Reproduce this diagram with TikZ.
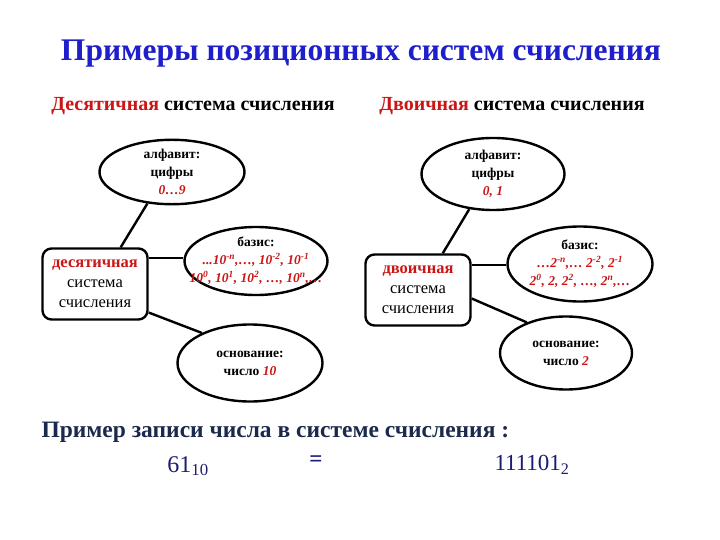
\documentclass[tikz,border=0pt]{standalone}
\usepackage{fontspec}
\setmainfont{Liberation Serif}
\usetikzlibrary{shapes.geometric}
\definecolor{ttlblue}{HTML}{1E1ECC}
\definecolor{rd}{HTML}{CC1515}
\definecolor{navy}{HTML}{1B2A4C}
\definecolor{dnavy}{HTML}{1C1C70}
\tikzset{
  oval/.style={ellipse, draw=black, line width=2.4pt, inner sep=0pt, align=center,
     font=\fontsize{13.5}{18}\selectfont\bfseries},
  sysbox/.style={draw=black, line width=2.4pt, rounded corners=9pt, inner sep=0pt, align=center,
     minimum width=105pt, minimum height=71pt, font=\fontsize{16.5}{20}\selectfont},
  link/.style={line width=2.4pt, draw=black}
}
\newcommand{\rdi}[1]{{\color{rd}\itshape #1}}
\newcommand{\sps}[1]{\textsuperscript{#1}}
\newcommand{\zw}[1]{\makebox[0pt]{#1}}
\begin{document}
\begin{tikzpicture}[x=1pt, y=-1pt]
\useasboundingbox (0,0) rectangle (720,540);
\node (title) at (361,54) {\fontsize{31.5}{34}\selectfont\bfseries\color{ttlblue}Примеры позиционных систем счисления};
\node (subl) at (193,106) {\fontsize{20}{22}\selectfont\bfseries{\color{rd}Десятичная} система счисления};
\node (subr) at (512,106) {\fontsize{20}{22}\selectfont\bfseries{\color{rd}Двоичная} система счисления};

% left
\node[oval, minimum width=145pt, minimum height=60pt] (lalpha) at (172,172) {алфавит:\\цифры\\\rdi{0…9}};
\node[sysbox] (lbox) at (95,284) {{\color{rd}\bfseries десятичная}\\система\\счисления};
\node[oval, minimum width=143pt, minimum height=68pt] (lbasis) at (256,261)
  {\zw{базис:}\\\zw{\rdi{...10\sps{-n},…, 10\sps{-2}, 10\sps{-1}}}\\\zw{\rdi{10\sps{0}, 10\sps{1}, 10\sps{2}, …, 10\sps{n},…}}};
\node[oval, minimum width=145pt, minimum height=77pt] (lbase) at (250,363) {основание:\\число \rdi{10}};

% right
\node[oval, minimum width=143pt, minimum height=72pt] (ralpha) at (493,174) {алфавит:\\цифры\\\rdi{0, 1}};
\node[sysbox] (rbox) at (418,290) {{\color{rd}\bfseries двоичная}\\система\\счисления};
\node[oval, minimum width=145pt, minimum height=75pt] (rbasis) at (580,264)
  {\zw{базис:}\\\zw{\rdi{…2\sps{-n},… 2\sps{-2}, 2\sps{-1}}}\\\zw{\rdi{2\sps{0}, 2, 2\sps{2}, …, 2\sps{n},…}}};
\node[oval, minimum width=132pt, minimum height=73pt] (rbase) at (566,353) {основание:\\число \rdi{2}};

% connectors
\draw[link] (lbox.55) -- (lalpha.232);
\draw[link] (lbox.26) -- (lbox.26 -| lbasis.west);
\draw[link] (lbox.-28) -- (lbase.148);
\draw[link] (rbox.56) -- (ralpha.236);
\draw[link] (rbox.25) -- (rbox.25 -| rbasis.west);
\draw[link] (rbox.-9) -- (rbase.142);

% bottom
\node[anchor=west] (ex) at (38,432) {\fontsize{23.5}{26}\selectfont\bfseries\color{navy}Пример записи числа в системе счисления :};
\node (n10) at (188,466) {\fontsize{24}{26}\selectfont\color{dnavy}61\textsubscript{10}};
\node (eq) at (316,461) {\fontsize{23}{26}\selectfont\bfseries\color{dnavy}=};
\node (n2) at (532,465) {\fontsize{23}{26}\selectfont\color{dnavy}111101\textsubscript{2}};
\end{tikzpicture}
\end{document}
